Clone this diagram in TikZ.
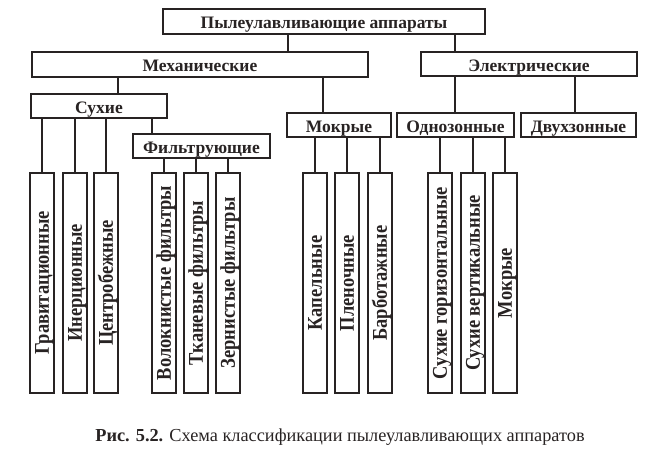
\documentclass[tikz,border=0pt]{standalone}
\usepackage{fontspec}
\setmainfont{Liberation Serif}
\newfontfamily\condfont[FakeStretch=0.88]{Liberation Serif}
\begin{document}
\begin{tikzpicture}[x=1pt,y=-1pt,
  box/.style={draw=ink,line width=2pt,fill=white,inner sep=0pt,text=ink},
  hbox/.style={box,minimum height=24pt,font=\fontsize{17.5}{19}\selectfont\bfseries,text height=14pt,text depth=0pt},
  vbox/.style={box,minimum width=220pt,minimum height=24pt,rotate=90,font=\condfont\fontsize{21}{23}\selectfont\bfseries,text height=13.9pt,text depth=0pt},
  wire/.style={draw=ink,line width=2pt}]
\definecolor{ink}{RGB}{40,35,35}
\useasboundingbox (0,0) rectangle (664,455);
% horizontal boxes
\node[hbox,minimum width=322pt,minimum height=25pt] (top) at (324,21.5) {Пылеулавливающие аппараты};
\node[hbox,minimum width=336pt,minimum height=25pt] (mech) at (200,64.5) {Механические};
\node[hbox,minimum width=216pt] (elec) at (529,64) {Электрические};
\node[hbox,minimum width=136pt] (dry) at (99,106) {Сухие};
\node[hbox,minimum width=104pt] (wet) at (339,125) {Мокрые};
\node[hbox,minimum width=117pt] (one) at (455.5,125) {Однозонные};
\node[hbox,minimum width=115pt] (two) at (578.5,125) {Двухзонные};
\node[hbox,minimum width=137pt] (filt) at (201.5,146) {Фильтрующие};
% vertical boxes
\node[vbox] (d1) at (42,283) {Гравитационные};
\node[vbox] (d2) at (75,283) {Инерционные};
\node[vbox] (d3) at (106,283) {Центробежные};
\node[vbox] (f1) at (164,283) {Волокнистые фильтры};
\node[vbox] (f2) at (196,283) {Тканевые фильтры};
\node[vbox] (f3) at (228,283) {Зернистые фильтры};
\node[vbox] (w1) at (315,283) {Капельные};
\node[vbox] (w2) at (347,283) {Пленочные};
\node[vbox] (w3) at (380,283) {Барботажные};
\node[vbox] (o1) at (440,283) {Сухие горизонтальные};
\node[vbox] (o2) at (473,283) {Сухие вертикальные};
\node[vbox] (o3) at (505,283) {Мокрые};
% connector x positions
\coordinate (kx1) at (288,0);
\coordinate (kx2) at (455,0);
\coordinate (kx3) at (118,0);
\coordinate (kx4) at (323,0);
\coordinate (kx5) at (575,0);
\coordinate (kx6) at (152,0);
\draw[wire] (kx1 |- top.south) -- (kx1 |- mech.north);
\draw[wire] (kx2 |- top.south) -- (kx2 |- elec.north);
\draw[wire] (kx3 |- mech.south) -- (kx3 |- dry.north);
\draw[wire] (kx4 |- mech.south) -- (kx4 |- wet.north);
\draw[wire] (kx2 |- elec.south) -- (kx2 |- one.north);
\draw[wire] (kx5 |- elec.south) -- (kx5 |- two.north);
\draw[wire] (kx6 |- dry.south) -- (kx6 |- filt.north);
\foreach \c in {d1,d2,d3} \draw[wire] (\c.east |- dry.south) -- (\c.east);
\foreach \c in {f1,f2,f3} \draw[wire] (\c.east |- filt.south) -- (\c.east);
\foreach \c in {w1,w2,w3} \draw[wire] (\c.east |- wet.south) -- (\c.east);
\foreach \c in {o1,o2,o3} \draw[wire] (\c.east |- one.south) -- (\c.east);
% caption
\node[text=ink,font=\fontsize{18.3}{20}\selectfont,inner sep=0pt] (cap) at (340,437) {\textbf{Рис. 5.2.} Схема классификации пылеулавливающих аппаратов};
\end{tikzpicture}
\end{document}
